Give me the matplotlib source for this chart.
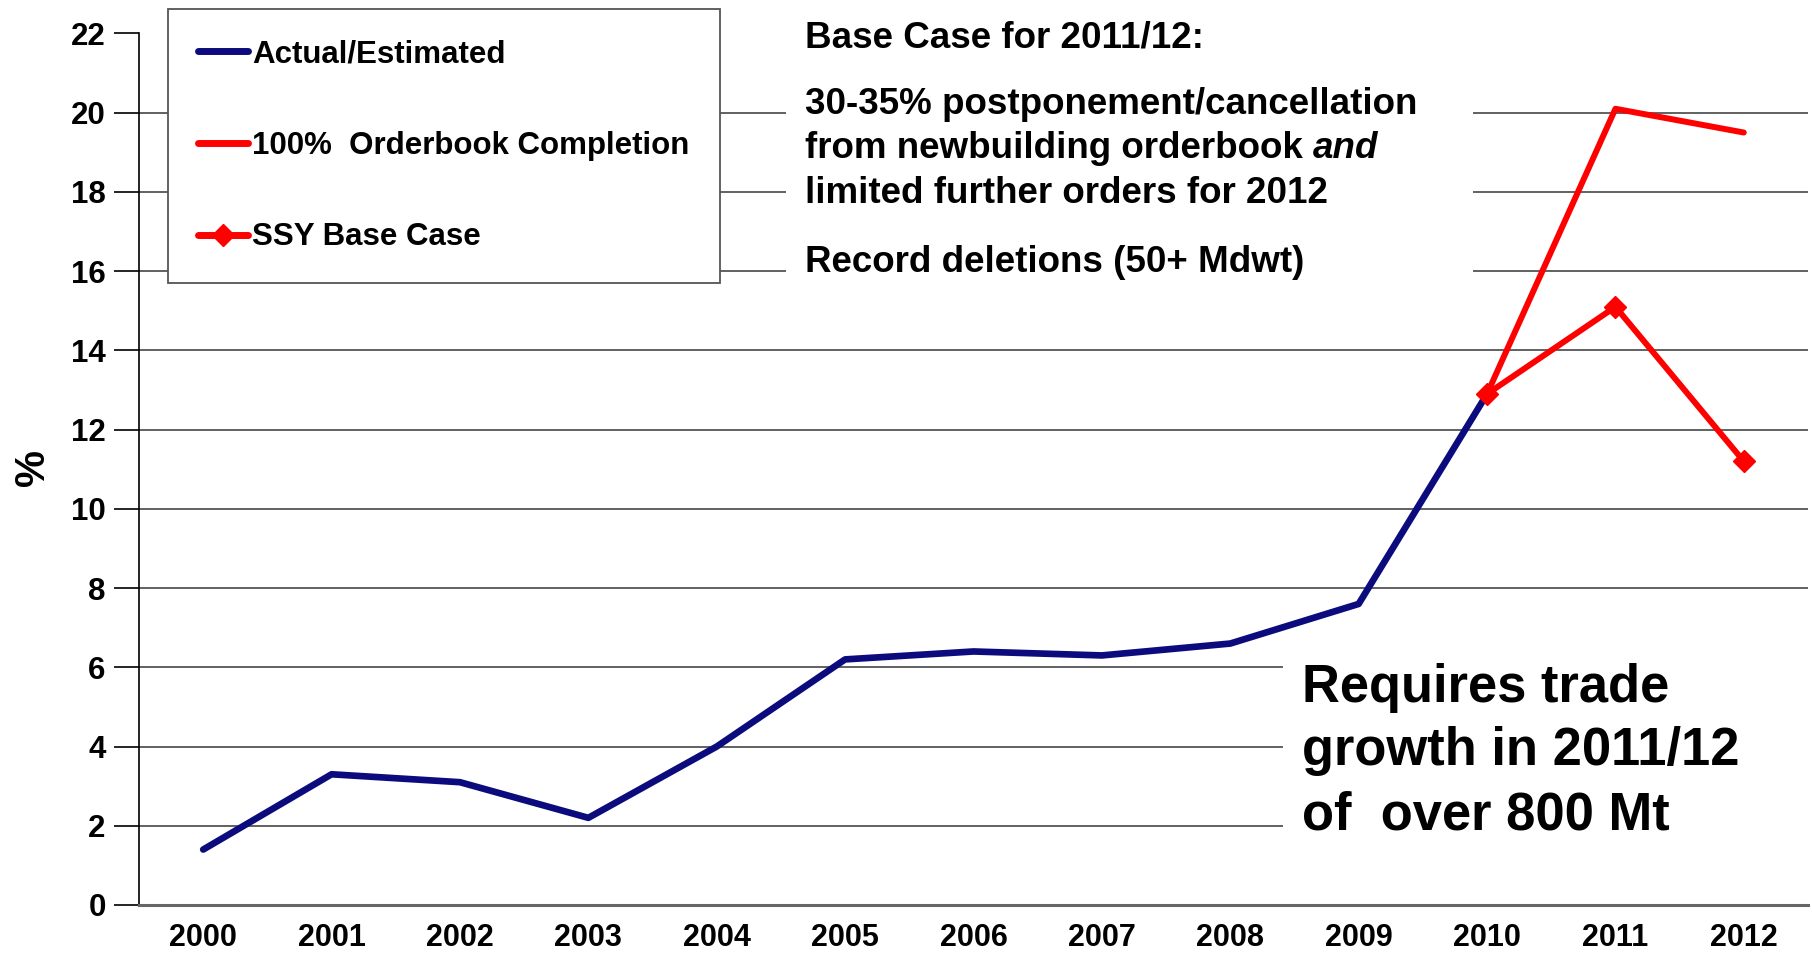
import numpy as np
import matplotlib
matplotlib.use("Agg")
from matplotlib import pyplot as plt
from matplotlib.patches import Rectangle

plt.rcParams['font.family'] = ['Liberation Sans', 'DejaVu Sans']
plt.rcParams['font.weight'] = 'bold'

# data (% fleet growth)
years = ['2000', '2001', '2002', '2003', '2004', '2005', '2006',
         '2007', '2008', '2009', '2010', '2011', '2012']
actual = [1.4, 3.3, 3.1, 2.2, 4.0, 6.2, 6.4, 6.3, 6.6, 7.6, 12.9]
orderbook_years = ['2010', '2011', '2012']
orderbook = [12.9, 20.1, 19.5]
ssy_years = ['2010', '2011', '2012']
ssy_base = [12.9, 15.1, 11.2]
yticks = list(range(0, 23, 2))

W, H = 1812, 956


def fx(px):
    return px / W


def fy(py):
    return 1 - py / H


fig = plt.figure(figsize=(W / 100, H / 100), dpi=100)
ax = fig.add_axes([fx(139), fy(905), fx(1808) - fx(139), fy(33.5) - fy(905)])

pos = {y: i for i, y in enumerate(years)}
ax.plot([pos[y] for y in years[:len(actual)]], actual, color='#0b0b7d',
        lw=4.8, solid_capstyle='round', zorder=4, label='Actual/Estimated')
ax.plot([pos[y] for y in orderbook_years], orderbook, color='#ff0000',
        lw=4.3, solid_capstyle='round', zorder=5, label='100%  Orderbook Completion')
ax.plot([pos[y] for y in ssy_years], ssy_base, color='#ff0000', lw=4.3,
        marker='D', markersize=11, solid_capstyle='round', zorder=6,
        label='SSY Base Case')

ax.set_xlim(-0.5, len(years) - 0.5)
ax.set_ylim(0, 22)
ax.set_xticks(range(len(years)))
ax.set_xticklabels(years)
ax.set_yticks(yticks)
ax.tick_params(axis='x', length=0, pad=13, labelsize=22)
ax.tick_params(axis='y', length=18, width=1.2, pad=6, labelsize=22.5, direction='out')
for lab in ax.get_xticklabels() + ax.get_yticklabels():
    lab.set_fontweight('bold')

ax.set_axisbelow(True)
ax.yaxis.grid(True, color='#555555', lw=1.3, zorder=0)
ax.spines['top'].set_visible(False)
ax.spines['right'].set_visible(False)
ax.spines['left'].set_linewidth(1.2)
ax.spines['bottom'].set_color('#666666')
ax.spines['bottom'].set_linewidth(2.2)

fig.text(fx(33), fy(468), '%', rotation=90, fontsize=30, fontweight='bold',
         ha='center', va='center')

# white panels that hide the gridlines behind the notes
ax.add_patch(Rectangle((fx(786), fy(300)), fx(1473) - fx(786), fy(0) - fy(300),
                       transform=fig.transFigure, facecolor='white',
                       edgecolor='none', zorder=2, clip_on=False))
ax.add_patch(Rectangle((fx(1283), fy(855)), fx(1812) - fx(1283), fy(647) - fy(855),
                       transform=fig.transFigure, facecolor='white',
                       edgecolor='none', zorder=2, clip_on=False))

leg = ax.legend(loc='upper left', bbox_to_anchor=(fx(168), fy(9)),
                bbox_transform=fig.transFigure, borderaxespad=0,
                fontsize=22.5, frameon=True, fancybox=False, framealpha=1,
                edgecolor='#555555', facecolor='white', handlelength=1.6,
                handletextpad=0.12, labelspacing=1.97, borderpad=0.97)
leg.get_frame().set_linewidth(1.3)
leg.set_zorder(7)
for t in leg.get_texts():
    t.set_fontweight('bold')
for h in leg.get_lines():
    h.set_linewidth(5)

note_lines = [
    (38, 'Base Case for 2011/12:'),
    (104, '30-35% postponement/cancellation'),
    (149, 'from newbuilding orderbook '),
    (193, 'limited further orders for 2012'),
    (262, 'Record deletions (50+ Mdwt)'),
]
fig.canvas.draw()
for py, s in note_lines:
    t1 = fig.text(fx(805), fy(py), s, fontsize=26.5, fontweight='bold',
                  ha='left', va='center', zorder=8)
    if s.startswith('from'):
        # the italic word sits right after the upright part
        bb = t1.get_window_extent(renderer=fig.canvas.get_renderer())
        fig.text(bb.x1 / W, fy(py), 'and', fontsize=26.5, fontweight='bold',
                 fontstyle='italic', ha='left', va='center', zorder=8)

for py, s in [(688, 'Requires trade'), (751, 'growth in 2011/12'), (815, 'of  over 800 Mt')]:
    fig.text(fx(1302), fy(py), s, fontsize=37.8, fontweight='bold',
             ha='left', va='center', zorder=8)

fig.savefig('out.png', dpi=100)
